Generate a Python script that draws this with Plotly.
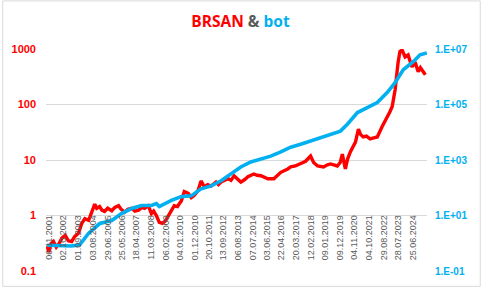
import plotly.graph_objects as go
from datetime import datetime

# ---- data ----
brsan_dates = ["2001-09-25", "2001-11-05", "2001-12-20", "2002-02-15", "2002-04-20", "2002-06-20",
               "2002-08-25", "2002-11-10", "2003-01-20", "2003-04-05", "2003-06-15", "2003-09-05",
               "2003-11-20", "2004-01-30", "2004-04-25", "2004-07-05", "2004-09-10", "2004-10-25",
               "2004-12-30", "2005-02-20", "2005-04-20", "2005-07-01", "2005-10-01", "2005-12-10",
               "2006-03-05", "2006-05-01", "2006-07-20", "2006-10-01", "2006-12-25", "2007-03-10",
               "2007-06-01", "2007-08-20", "2007-10-15", "2008-01-10", "2008-03-20", "2008-05-10",
               "2008-07-10", "2008-09-15", "2008-11-25", "2009-02-01", "2009-04-10", "2009-06-10",
               "2009-08-20", "2009-11-01", "2010-01-30", "2010-04-05", "2010-07-05", "2010-09-10",
               "2010-11-15", "2011-02-10", "2011-04-20", "2011-07-01", "2011-09-20", "2011-12-05",
               "2012-03-25", "2012-05-20", "2012-07-20", "2012-10-10", "2012-12-25", "2013-03-01",
               "2013-05-10", "2013-07-20", "2013-10-10", "2014-01-01", "2014-03-20", "2014-08-01",
               "2014-10-15", "2015-01-10", "2015-06-15", "2015-10-30", "2016-01-20", "2016-04-05",
               "2016-09-10", "2016-11-15", "2017-03-01", "2017-07-01", "2017-10-20", "2018-02-10",
               "2018-04-20", "2018-07-20", "2018-12-01", "2019-03-01", "2019-05-10", "2019-10-10",
               "2019-12-15", "2020-02-01", "2020-04-10", "2020-06-01", "2020-08-01", "2020-11-25",
               "2021-02-01", "2021-03-20", "2021-05-20", "2021-08-01", "2021-10-25", "2022-01-15",
               "2022-04-05", "2022-07-25", "2022-09-20", "2022-11-15", "2023-01-20", "2023-03-10",
               "2023-05-15", "2023-07-20", "2023-09-01", "2023-10-20", "2023-12-28", "2024-03-05",
               "2024-04-20", "2024-06-01", "2024-08-10", "2024-10-20", "2024-12-10", "2025-01-15",
               "2025-04-01"]
brsan_values = [0.28, 0.22, 0.31, 0.34, 0.27, 0.31,
                0.39, 0.44, 0.35, 0.34, 0.42, 0.48,
                0.72, 0.88, 0.82, 1.18, 1.6, 1.35,
                1.45, 1.25, 1.18, 1.35, 1.22, 1.4,
                1.5, 1.3, 1.15, 1.3, 1.35, 1.2,
                1.25, 1.4, 1.35, 1.5, 1.08, 1.2,
                1.0, 0.75, 0.72, 0.8, 1.0, 1.25,
                1.5, 1.45, 1.85, 2.7, 2.5, 2.1,
                2.3, 2.8, 4.2, 3.3, 3.6, 3.4,
                4.0, 3.6, 4.0, 4.3, 4.6, 4.3,
                5.2, 4.6, 4.0, 4.4, 5.0, 5.6,
                5.3, 5.2, 4.6, 4.6, 5.2, 6.0,
                6.9, 7.5, 7.8, 8.5, 9.5, 11.8,
                9.0, 7.8, 7.5, 8.2, 8.5, 7.8,
                9.0, 12.8, 6.9, 10.5, 14, 21,
                36, 29, 26, 27, 24, 25,
                26, 40, 48, 61, 75, 92,
                185, 560, 900, 960, 720, 780,
                600, 475, 580, 390, 460, 420,
                345]

bot_dates = ["2001-09-25", "2002-08-25", "2003-04-05", "2003-10-05", "2004-04-25", "2004-09-10",
             "2005-01-01", "2005-10-01", "2006-05-10", "2006-12-25", "2007-08-05", "2008-03-20",
             "2008-07-10", "2008-09-15", "2009-04-10", "2009-06-15", "2010-01-30", "2010-09-10",
             "2011-04-20", "2011-12-05", "2012-07-20", "2013-03-01", "2013-10-10", "2014-05-25",
             "2015-01-10", "2015-08-20", "2016-04-05", "2016-11-15", "2017-07-01", "2018-02-10",
             "2018-09-25", "2019-05-10", "2019-12-20", "2020-05-25", "2021-01-10", "2021-08-20",
             "2022-04-05", "2022-11-15", "2023-05-15", "2023-11-15", "2024-06-30", "2024-12-01",
             "2025-05-05"]
bot_values = [0.85, 0.85, 0.8, 0.88, 2.3, 3.5,
              5.2, 6.6, 11.8, 17.8, 23, 23,
              27, 21, 32, 35, 48, 51,
              91, 117, 178, 316, 562, 851,
              1096, 1380, 1950, 2880, 3715, 4786,
              6607, 8511, 10965, 19500, 51300, 77600,
              117500, 269000, 616000, 1780000, 3470000, 6200000,
              7200000]

x_labels = ["06.11.2001", "02.10.2002", "01.09.2003", "03.08.2004", "29.06.2005", "25.05.2006",
            "18.04.2007", "11.03.2008", "06.02.2009", "04.01.2010", "01.12.2010", "20.10.2011",
            "13.09.2012", "06.08.2013", "07.07.2014", "03.06.2015", "22.04.2016", "20.03.2017",
            "12.02.2018", "09.01.2019", "09.12.2019", "04.11.2020", "04.10.2021", "29.08.2022",
            "28.07.2023", "25.06.2024"]
x_tickvals = [datetime.strptime(s, "%d.%m.%Y").strftime("%Y-%m-%d") for s in x_labels]

left_ticks = [0.1, 1, 10, 100, 1000]
left_text = ["0.1", "1", "10", "100", "1000"]
right_ticks = [0.1, 10, 1e3, 1e5, 1e7]
right_text = ["1.E-01", "1.E+01", "1.E+03", "1.E+05", "1.E+07"]

RED = "#FF0000"
BLUE = "#00B0F0"
GRAY = "#595959"
GRID = "#D9D9D9"

fig = go.Figure()
fig.add_trace(go.Scatter(x=brsan_dates, y=brsan_values, mode="lines", name="BRSAN",
                         line=dict(color=RED, width=3.4), yaxis="y"))
fig.add_trace(go.Scatter(x=bot_dates, y=bot_values, mode="lines", name="bot",
                         line=dict(color=BLUE, width=3.6), yaxis="y2"))

L, R, T, B = 44, 54, 49, 16
W, H = 481, 289
pw, ph = W - L - R, H - T - B

fig.update_layout(
    width=W, height=H,
    margin=dict(l=L, r=R, t=T, b=B),
    paper_bgcolor="white", plot_bgcolor="white",
    showlegend=False,
    font=dict(family="Liberation Sans, Arial, sans-serif"),
    title=dict(
        text=(f"<b><span style='color:{RED}'>BRSAN</span> "
              f"<span style='color:{GRAY}'>&amp;</span> "
              f"<span style='color:{BLUE}'>bot</span></b>"),
        x=0.5, xanchor="center", xref="container",
        y=1 - 22 / H, yanchor="middle", yref="container",
        font=dict(family="Open Sans, sans-serif", size=15.5),
    ),
    xaxis=dict(
        type="date",
        range=["2001-08-30", "2025-05-08"],
        tickvals=x_tickvals, ticktext=x_labels,
        tickangle=-90,
        tickfont=dict(size=9, color=GRAY, family="Liberation Sans, Arial, sans-serif"),
        showgrid=False, showline=False, zeroline=False, ticks="",
        anchor="free", position=0.25 + 3 / ph,
    ),
    yaxis=dict(
        type="log", range=[-1, 3],
        tickvals=left_ticks, ticktext=["<b>" + t + "</b>" for t in left_text],
        tickfont=dict(size=11, color=RED, family="Liberation Sans, Arial, sans-serif"),
        showgrid=True, gridcolor=GRID, gridwidth=1,
        showline=False, zeroline=False, ticks="", ticklabelstandoff=9,
    ),
    yaxis2=dict(
        type="log", range=[-1, 7],
        overlaying="y", side="right",
        tickvals=right_ticks, ticktext=["<b>" + t + "</b>" for t in right_text],
        tickfont=dict(size=10, color=BLUE, family="Liberation Sans, Arial, sans-serif"),
        showgrid=False, showline=False, zeroline=False, ticks="", ticklabelstandoff=7,
    ),
)

# outer chart border
fig.add_shape(type="rect", xref="paper", yref="paper",
              x0=(0.5 - L) / pw, x1=(W - 0.5 - L) / pw,
              y0=-(B - 0.5) / ph, y1=1 + (T - 0.5) / ph,
              line=dict(color=GRID, width=1), fillcolor="rgba(0,0,0,0)", layer="below")

fig.write_html("out.html")
